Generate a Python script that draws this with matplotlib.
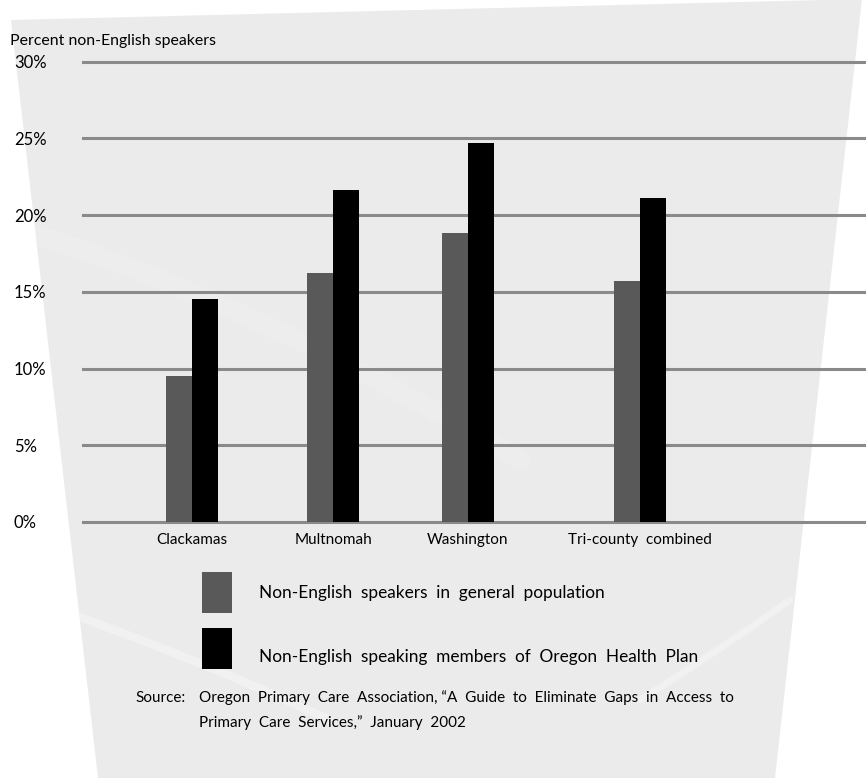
import matplotlib.pyplot as plt
import numpy as np
from matplotlib.patches import Polygon, Rectangle
from matplotlib.lines import Line2D

# share of non-English speakers, by county
counties = ['Clackamas', 'Multnomah', 'Washington', 'Tri-county  combined']
general_pop = [9.5, 16.2, 18.85, 15.7]
ohp_members = [14.5, 21.6, 24.7, 21.1]
y_ticks = [0, 5, 10, 15, 20, 25, 30]

legend_labels = ['Non-English  speakers  in  general  population',
                 'Non-English  speaking  members  of  Oregon  Health  Plan']
source_lines = ['Oregon  Primary  Care  Association, \u201cA  Guide  to  Eliminate  Gaps  in  Access  to',
                'Primary  Care  Services,\u201d  January  2002']

GRAY = '#595959'
BLACK = '#000000'
FONT = ['Lato', 'DejaVu Sans']
plt.rcParams['font.family'] = FONT

W, H = 866, 778
fig = plt.figure(figsize=(W / 100, H / 100), dpi=100)

def fx(px):
    return px / W

def fy(py):
    return 1 - py / H

# tapered grey backdrop
corners = [(11, 20), (862, -1), (775, 778), (98, 778)]
backdrop = Polygon([(fx(x), fy(y)) for x, y in corners], closed=True,
                   transform=fig.transFigure, fc='#ebebeb', ec='none', zorder=0)
fig.patches.append(backdrop)

# faint light streaks over the backdrop
def streak(p0, p1, p2, lw, alpha):
    t = np.linspace(0, 1, 60)
    xs = (1 - t) ** 2 * p0[0] + 2 * (1 - t) * t * p1[0] + t ** 2 * p2[0]
    ys = (1 - t) ** 2 * p0[1] + 2 * (1 - t) * t * p1[1] + t ** 2 * p2[1]
    ln = Line2D(fx(xs), fy(ys), transform=fig.transFigure, color='white',
                lw=lw, alpha=alpha, solid_capstyle='round', zorder=0.5)
    ln.set_clip_path(backdrop)
    fig.lines.append(ln)

streak((60, 610), (200, 660), (330, 720), 6, 0.35)
streak((640, 700), (720, 650), (790, 600), 5, 0.3)
streak((20, 230), (250, 300), (520, 460), 14, 0.12)

ax = fig.add_axes([fx(83), fy(522), 1 - fx(83), fy(61.5) - fy(522)])
ax.set_zorder(2)
ax.set_facecolor('none')
for s in ax.spines.values():
    s.set_visible(False)

# group slots (spacing of the original layout is uneven)
slots = np.array([0, 1.0, 1.957, 3.177])
w = 0.184

for t in y_ticks:
    ax.axhline(t, color='#8a8a8a', lw=2.2, zorder=1, clip_on=False)

ax.bar(slots - w / 2, general_pop, w, color=GRAY, zorder=2)
ax.bar(slots + w / 2, ohp_members, w, color=BLACK, zorder=3)

ax.set_xlim((83 - 192) / 141, (866 - 192) / 141)
ax.set_ylim(0, 30)

ax.set_yticks(y_ticks, [f'{t}%' for t in y_ticks], fontsize=12)
ax.tick_params(axis='y', length=0, pad=49.7)
for lab in ax.get_yticklabels():
    lab.set_horizontalalignment('left')

ax.set_xticks(slots, counties, fontsize=11)
ax.tick_params(axis='x', length=0, pad=8)

fig.text(fx(10), fy(41), 'Percent non-English speakers', fontsize=11.4, va='center', zorder=3)

# legend boxes drawn by hand
for i, (col, lab) in enumerate(zip([GRAY, BLACK], legend_labels)):
    top = 572 + i * 56
    fig.patches.append(Rectangle((fx(202), fy(top + 41)), fx(30), fy(top) - fy(top + 41),
                                 transform=fig.transFigure, fc=col, ec='none', zorder=1))
    fig.text(fx(259), fy(top + 21 + i * 8), lab, fontsize=12.4, va='center', zorder=3)

fig.text(fx(135), fy(698), 'Source:', fontsize=11, va='center', zorder=3)
fig.text(fx(199), fy(698), source_lines[0], fontsize=11, va='center', zorder=3)
fig.text(fx(199), fy(723), source_lines[1], fontsize=11, va='center', zorder=3)

fig.savefig('out.png', dpi=100)
